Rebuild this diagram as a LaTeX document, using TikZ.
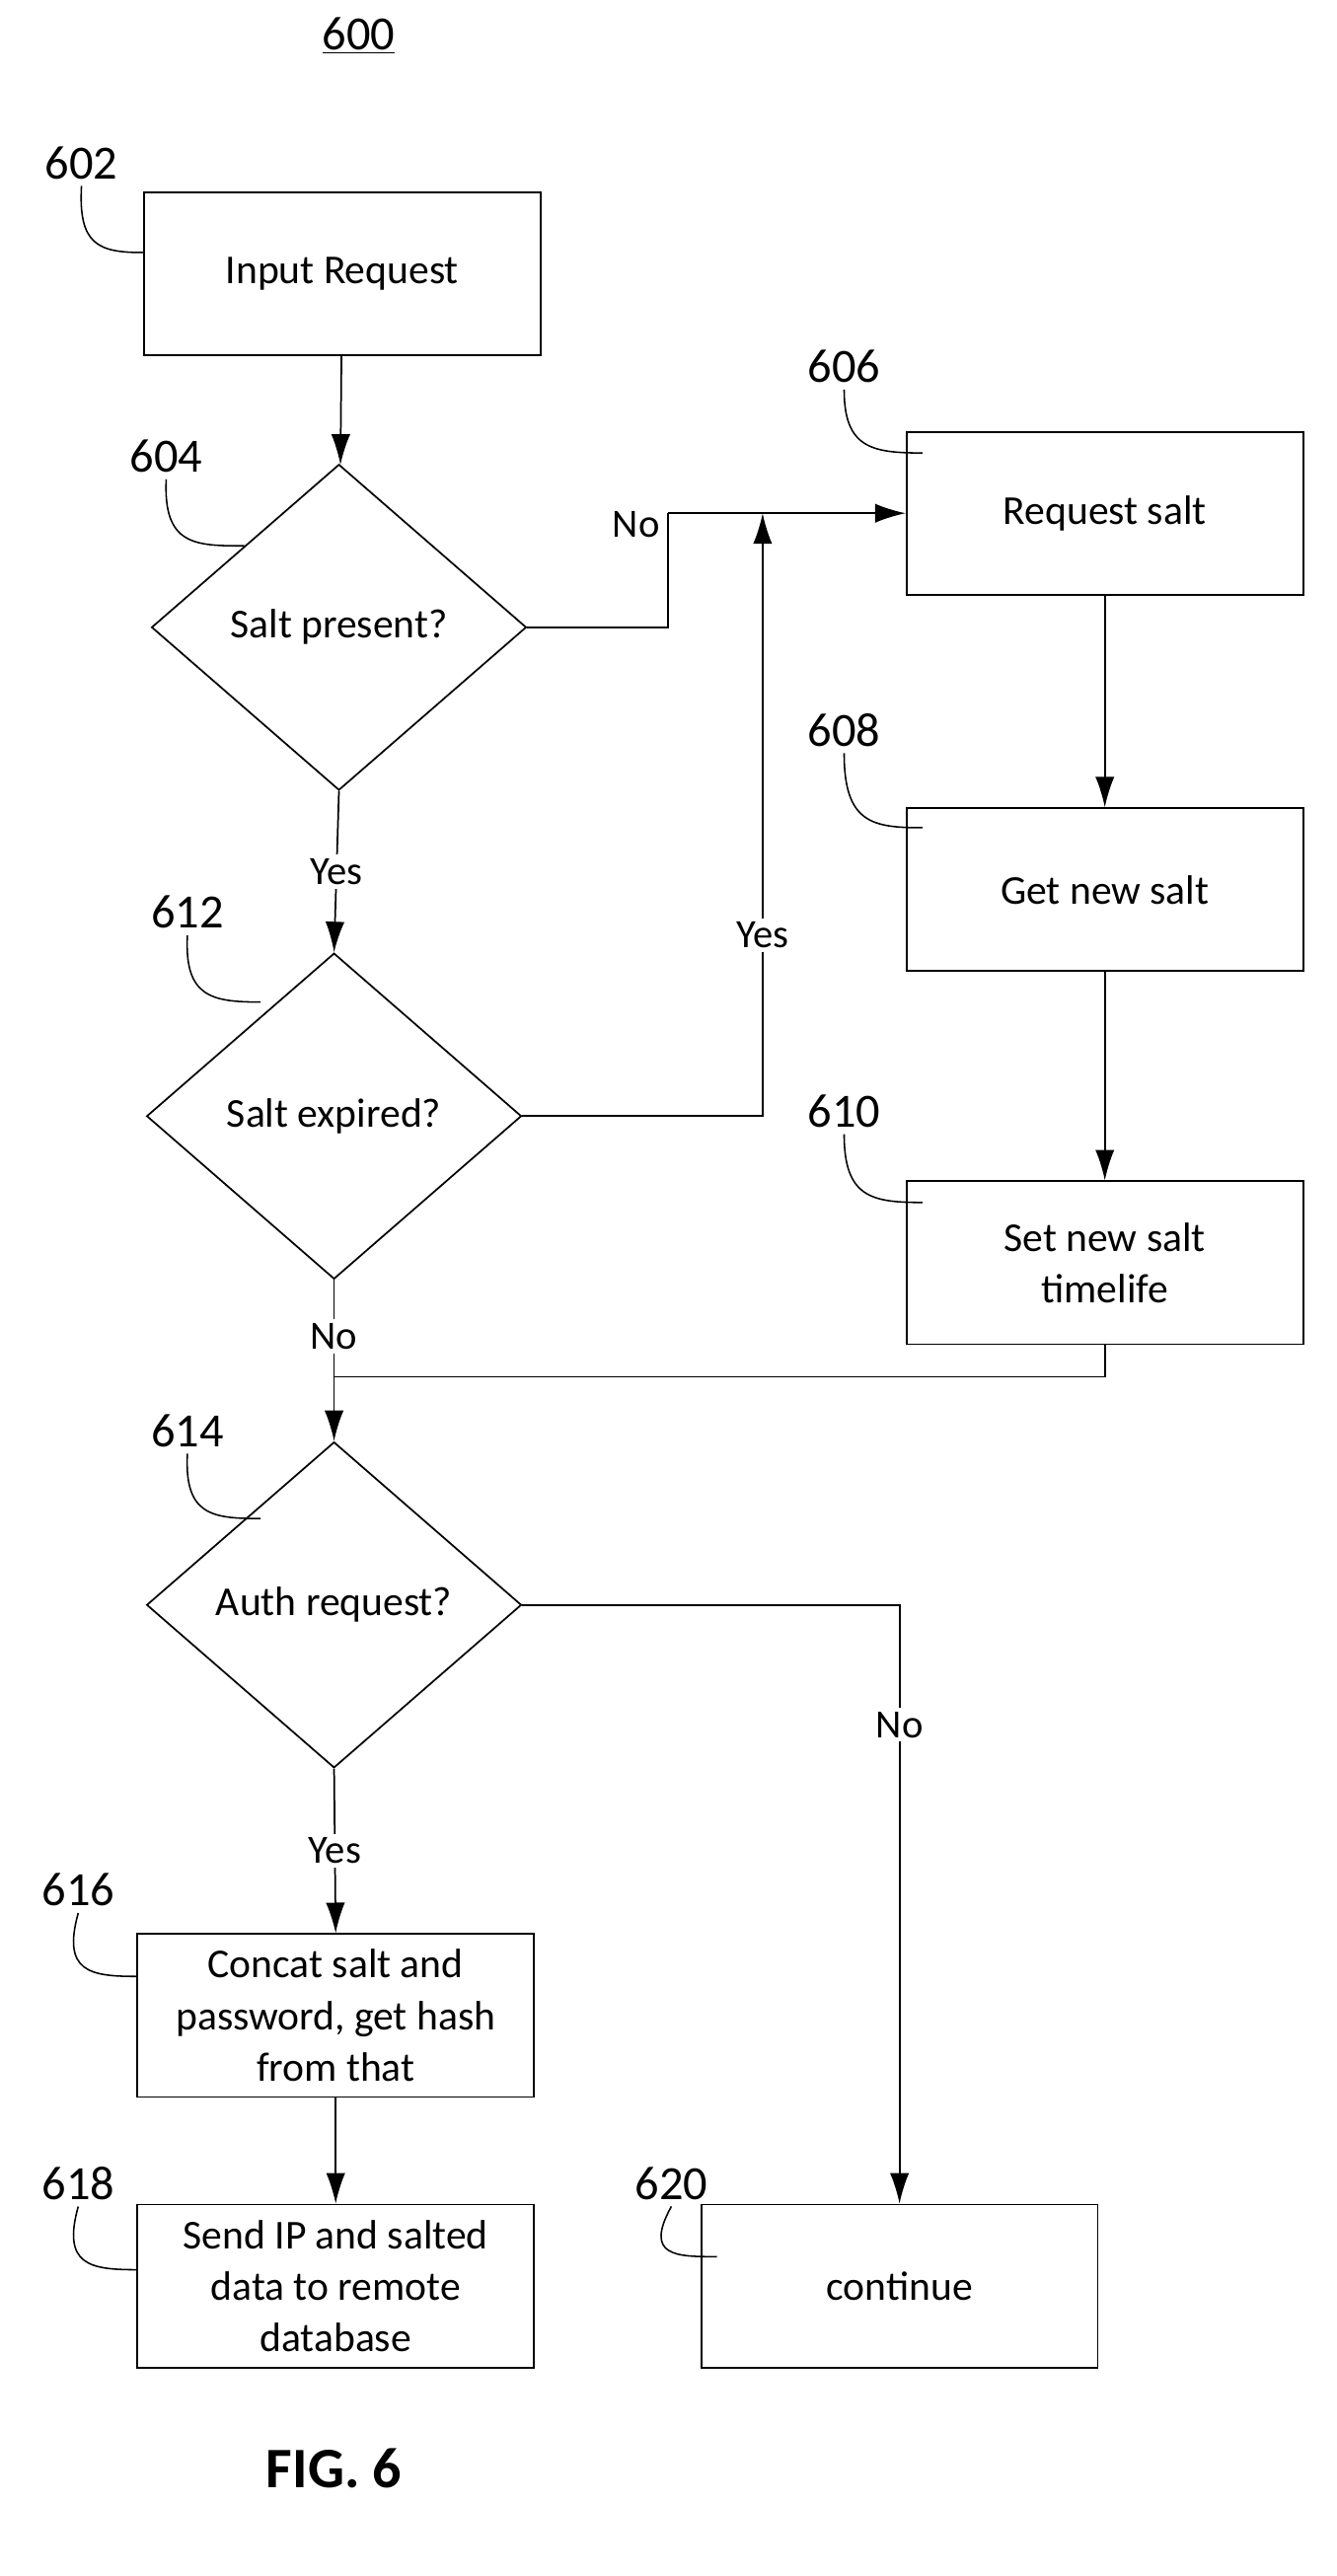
\documentclass[tikz,border=0pt]{standalone}
\usepackage{fontspec}
\setmainfont{Carlito}
\usetikzlibrary{shapes.geometric, arrows, arrows.meta}
\tikzstyle{process} = [rectangle, minimum width=7.3cm, minimum height=3cm, text centered, align=center, draw=black, line width=0.9pt, font=\fontsize{21.5}{27}\selectfont]
\tikzstyle{decision} = [diamond, minimum width=6.9cm, minimum height=6cm, inner sep=0pt, text centered, draw=black, line width=0.9pt, font=\fontsize{21.5}{27}\selectfont]
\tikzstyle{refnum} = [font=\fontsize{25}{29}\selectfont]
\tikzstyle{answer} = [font=\fontsize{21}{25}\selectfont, fill=white, inner sep=2pt]
\tikzstyle{arrow} = [line width=0.9pt,-{Latex[length=16pt,width=10pt]}]
\tikzstyle{line} = [line width=0.9pt]
\tikzstyle{leader} = [line width=0.8pt]

\begin{document}
\begin{tikzpicture}[x=0.03cm, y=-0.03cm]
    \useasboundingbox (0,0) rectangle (820,1581);

    \node (fig) [refnum] at (220,22) {\underline{600}};

    \node (inputReq) [process] at (210,168) {Input Request};
    \node (saltPresent) [decision] at (208,385) {Salt present?};
    \node (saltExpired) [decision] at (205,685) {Salt expired?};
    \node (authReq) [decision] at (205,985) {Auth request?};
    \node (requestSalt) [process] at (678,315) {Request salt};
    \node (getSalt) [process] at (678,546) {Get new salt};
    \node (setLife) [process] at (678,775) {Set new salt\\timelife};
    \node (concat) [process] at (206,1237) {Concat salt and\\password, get hash\\from that};
    \node (send) [process] at (206,1403) {Send IP and salted\\data to remote\\database};
    \node (cont) [process] at (552,1403) {continue};

    % reference numerals with leaders
    \node (l602) [refnum] at (50,100) {602};
    \node (l604) [refnum] at (102,280) {604};
    \node (l606) [refnum] at (518,225) {606};
    \node (l608) [refnum] at (518,448) {608};
    \node (l610) [refnum] at (518,682) {610};
    \node (l612) [refnum] at (115,560) {612};
    \node (l614) [refnum] at (115,878) {614};
    \node (l616) [refnum] at (48,1160) {616};
    \node (l618) [refnum] at (48,1340) {618};
    \node (l620) [refnum] at (412,1340) {620};

    \draw [leader] (l602.south) .. controls (48,150) and (60,155) .. (inputReq.west |- 0,155);
    \draw [leader] (l604.south) .. controls (100,335) and (120,335) .. (150,335);
    \draw [leader] (l606.south) .. controls (518,275) and (535,278) .. (566,278);
    \draw [leader] (l608.south) .. controls (518,505) and (535,508) .. (566,508);
    \draw [leader] (l610.south) .. controls (518,735) and (535,738) .. (566,738);
    \draw [leader] (l612.south) .. controls (113,612) and (130,615) .. (160,615);
    \draw [leader] (l614.south) .. controls (113,930) and (130,932) .. (160,932);
    \draw [leader] (l616.south) .. controls (38,1210) and (55,1213) .. (concat.west |- 0,1213);
    \draw [leader] (l618.south) .. controls (38,1390) and (55,1393) .. (send.west |- 0,1393);
    \draw [leader] (l620.south) .. controls (395,1385) and (415,1385) .. (440,1385);

    \coordinate (noBend) at (410,385);
    \coordinate (noTop) at (410,315);
    \coordinate (yesBend) at (468,685);
    \coordinate (yesTop) at (468,315);
    \coordinate (lifeBend) at (678,845);
    \coordinate (join) at (205,845);
    \coordinate (authBend) at (552,985);

    \draw [arrow] (inputReq) -- (saltPresent);
    \draw [line] (saltPresent.east) -- (noBend) -- node[answer, pos=0.9, left=2pt, fill=none] {No} (noTop);
    \draw [arrow] (noTop) -- (requestSalt.west);
    \draw [arrow] (saltExpired.east) -- (yesBend) -- node[answer, pos=0.3] {Yes} (yesTop);
    \draw [arrow] (saltPresent.south) -- node[answer] {Yes} (saltExpired.north);
    \draw [arrow] (requestSalt) -- (getSalt);
    \draw [arrow] (getSalt) -- (setLife);
    \draw [arrow] (saltExpired.south) -- node[answer, pos=0.35] {No} (authReq.north);
    \draw [line] (setLife.south) -- (lifeBend) -- (join);
    \draw [arrow] (authReq.south) -- node[answer] {Yes} (concat.north);
    \draw [arrow] (authReq.east) -- (authBend) -- node[answer, pos=0.2] {No} (cont.north);
    \draw [arrow] (concat) -- (send);

    \node (figlabel) [font=\fontsize{30}{34}\selectfont\bfseries] at (205,1515) {FIG. 6};
\end{tikzpicture}
\end{document}
